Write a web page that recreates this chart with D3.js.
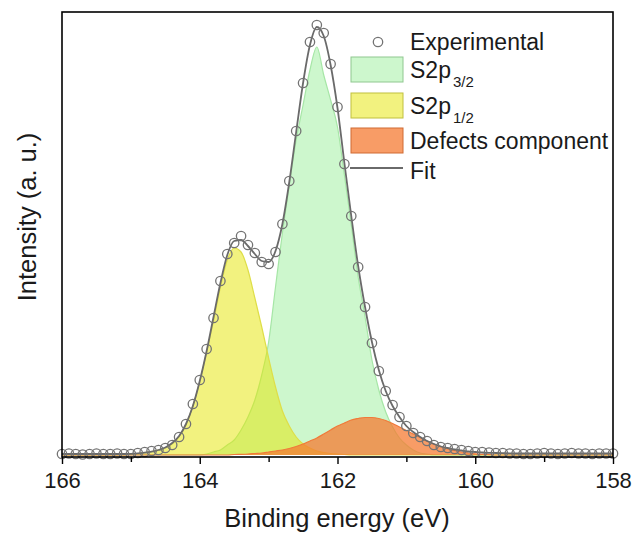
<html>
<head>
<meta charset="utf-8">
<script src="https://d3js.org/d3.v7.min.js"></script>
<style>
  body { margin: 0; background: #fff; }
  text { font-family: "Liberation Sans", Arial, sans-serif; fill: #1a1a1a; }
</style>
</head>
<body>
<script>
// binding energy grid, 166 -> 158 eV in 0.1 eV steps
var energy = d3.range(0, 81).map(i => +(166 - i * 0.1).toFixed(1));

// measured intensity (a. u.)
var experimental = [
  3, 3.5, 3, 2.5, 3, 3.5, 3, 3, 3.5, 3,
  3, 4, 5, 6, 7, 9, 12, 20, 33, 53,
  77, 108, 139, 176, 203, 214, 221, 212, 204, 195,
  193, 205, 233, 276, 326, 374, 415, 432, 424, 393,
  350, 293, 241, 190, 150, 114, 86, 66, 52, 40,
  31, 24, 20, 16, 12, 10, 9, 8, 7, 6,
  5, 5, 4.5, 4, 4, 3.5, 3.5, 3, 3, 3.5,
  4, 3.5, 3, 3.5, 4, 3.5, 3.5, 3, 3.5, 3.5,
  3.5
];

// fitted envelope
var fit = [
  3, 3, 3, 3, 3, 3, 3, 3, 3, 3,
  3.2, 3.6, 4.3, 5.3, 7, 9.5, 14, 21, 33, 51,
  76, 106, 140, 174, 202, 216, 217, 211, 203, 196,
  195, 206, 233, 275, 325, 374, 412, 430, 421, 392,
  349, 294, 241, 191, 150, 115, 87, 66, 51, 40,
  31, 25, 20, 16, 13, 10.5, 9, 7.5, 6.5, 5.5,
  5, 4.5, 4.2, 4, 3.8, 3.6, 3.5, 3.5, 3.5, 3.5,
  3.5, 3.5, 3.5, 3.5, 3.5, 3.5, 3.5, 3.5, 3.5, 3.5,
  3.5
];

// fitted components, height above background
var background = 2;
var s2p32 = [
  0, 0, 0, 0, 0, 0, 0, 0, 0, 0,
  0, 0, 0, 0, 0, 0, 0, 0, 0, 0,
  0, 1, 3, 5, 10, 15, 25, 38, 55, 80,
  113, 168, 222, 270, 315, 350, 385, 408, 380, 355,
  328, 280, 230, 178, 138, 95, 65, 43, 28, 17,
  10, 5, 2, 1, 0, 0, 0, 0, 0, 0,
  0, 0, 0, 0, 0, 0, 0, 0, 0, 0,
  0, 0, 0, 0, 0, 0, 0, 0, 0, 0,
  0
];
var s2p12 = [
  0, 0, 0, 0, 0, 0, 0, 0, 0, 0,
  1, 1.5, 2.5, 3.5, 5, 7, 11, 18, 30, 49,
  73, 103, 134, 168, 195, 207, 203, 185, 157, 128,
  97, 68, 44, 29, 18, 11, 7, 4, 2.5, 1.5,
  1, 0.5, 0, 0, 0, 0, 0, 0, 0, 0,
  0, 0, 0, 0, 0, 0, 0, 0, 0, 0,
  0, 0, 0, 0, 0, 0, 0, 0, 0, 0,
  0, 0, 0, 0, 0, 0, 0, 0, 0, 0,
  0
];
var defects = [
  0, 0, 0, 0, 0, 0, 0, 0, 0, 0,
  0, 0, 0, 0, 0, 0, 0, 0, 0, 0,
  0, 0, 0, 0, 0, 0.5, 0.7, 1, 1.5, 2,
  3, 4, 5, 6.5, 8.5, 11, 14, 17, 21, 25,
  29, 32, 35, 36.5, 37.5, 37.5, 36.5, 34.5, 31.5, 28,
  24.5, 21, 17.5, 14, 11, 8.5, 6, 4.5, 3, 2,
  1.2, 0.7, 0.4, 0, 0, 0, 0, 0, 0, 0,
  0, 0, 0, 0, 0, 0, 0, 0, 0, 0,
  0
];

var majorTicks = [166, 164, 162, 160, 158];
var minorTicks = [165, 163, 161, 159];

var width = 634, height = 540;
var margin = {top: 12, right: 21, bottom: 83, left: 62};

var svg = d3.select("body").append("svg")
    .attr("width", width)
    .attr("height", height);

var x = d3.scaleLinear()
    .domain([166, 158])
    .range([margin.left, width - margin.right]);

var y = d3.scaleLinear()
    .domain([0, 445])
    .range([height - margin.bottom, margin.top]);

function component(values) {
    return d3.area()
        .x((d, i) => x(energy[i]))
        .y0(y(background))
        .y1((d, i) => y(background + values[i]))
        .curve(d3.curveMonotoneX);
}
function edge(values) {
    return d3.line()
        .x((d, i) => x(energy[i]))
        .y((d, i) => y(background + values[i]))
        .curve(d3.curveMonotoneX);
}

var comps = [
    {vals: s2p32, fill: "#90ee90", op: 0.45, stroke: "#a6e6a6"},
    {vals: s2p12, fill: "#e5e500", op: 0.5, stroke: "#dede48"},
    {vals: defects, fill: "#f57a30", op: 0.74, stroke: "#f07a3a"}
];

comps.forEach(function(c) {
    svg.append("path")
        .datum(c.vals)
        .attr("d", component(c.vals))
        .attr("fill", c.fill)
        .attr("fill-opacity", c.op);
    svg.append("path")
        .datum(c.vals)
        .attr("d", edge(c.vals))
        .attr("fill", "none")
        .attr("stroke", c.stroke)
        .attr("stroke-width", 1.2);
});

// fit curve
svg.append("path")
    .datum(fit)
    .attr("d", d3.line()
        .x((d, i) => x(energy[i]))
        .y(d => y(d))
        .curve(d3.curveMonotoneX))
    .attr("fill", "none")
    .attr("stroke", "#6a6a6a")
    .attr("stroke-width", 1.8);

// experimental points
svg.append("g")
    .selectAll("circle")
    .data(experimental)
    .enter()
    .append("circle")
    .attr("cx", (d, i) => x(energy[i]))
    .attr("cy", d => y(d))
    .attr("r", 4.7)
    .attr("fill", "none")
    .attr("stroke", "#737373")
    .attr("stroke-width", 1.3);

// frame
svg.append("rect")
    .attr("x", margin.left)
    .attr("y", margin.top)
    .attr("width", width - margin.left - margin.right)
    .attr("height", height - margin.top - margin.bottom)
    .attr("fill", "none")
    .attr("stroke", "#000")
    .attr("stroke-width", 1.6);

var xAxis = svg.append("g")
    .attr("transform", `translate(0,${height - margin.bottom})`)
    .call(d3.axisBottom(x).tickValues(majorTicks).tickSize(7).tickPadding(8).tickFormat(d3.format("d")))
    .call(g => g.select(".domain").remove());
xAxis.selectAll("line").attr("stroke", "#000").attr("stroke-width", 1.4);
xAxis.selectAll("text").attr("font-size", 22).attr("font-family", null).attr("fill", "#222");

svg.append("g")
    .attr("transform", `translate(0,${height - margin.bottom})`)
    .call(d3.axisBottom(x).tickValues(minorTicks).tickSize(5).tickFormat(""))
    .call(g => g.select(".domain").remove())
    .selectAll("line").attr("stroke", "#000").attr("stroke-width", 1.4);

// axis titles
svg.append("text")
    .attr("x", 337)
    .attr("y", 527)
    .attr("text-anchor", "middle")
    .attr("font-size", 25.5)
    .text("Binding energy (eV)");

svg.append("text")
    .attr("transform", "translate(36,217) rotate(-90)")
    .attr("text-anchor", "middle")
    .attr("font-size", 25.5)
    .attr("fill", "#2a2a2a")
    .text("Intensity (a. u.)");

// legend
var lg = svg.append("g");
lg.append("circle")
    .attr("cx", 378).attr("cy", 42).attr("r", 4.7)
    .attr("fill", "none").attr("stroke", "#737373").attr("stroke-width", 1.3);
lg.append("text").attr("x", 410).attr("y", 50).attr("font-size", 23).text("Experimental");

var boxes = [
    {y: 57, c: comps[0], name: "S2p", sub: "3/2"},
    {y: 93, c: comps[1], name: "S2p", sub: "1/2"},
    {y: 128, c: comps[2], name: "Defects component", sub: null}
];
boxes.forEach(function(b) {
    lg.append("rect")
        .attr("x", 351).attr("y", b.y).attr("width", 52).attr("height", 25)
        .attr("fill", b.c.fill).attr("fill-opacity", b.c.op)
        .attr("stroke", d3.color(b.c.stroke).darker(0.4)).attr("stroke-width", 1);
    var t = lg.append("text").attr("x", 410).attr("y", b.y + 21).attr("font-size", 23);
    t.append("tspan").text(b.name);
    if (b.sub) {
        t.append("tspan").attr("dy", 9).attr("dx", 2).attr("font-size", 15).text(b.sub);
    }
});
lg.append("line")
    .attr("x1", 350).attr("x2", 403).attr("y1", 168).attr("y2", 168)
    .attr("stroke", "#6a6a6a").attr("stroke-width", 1.8);
lg.append("text").attr("x", 410).attr("y", 179).attr("font-size", 23).text("Fit");
</script>
</body>
</html>
